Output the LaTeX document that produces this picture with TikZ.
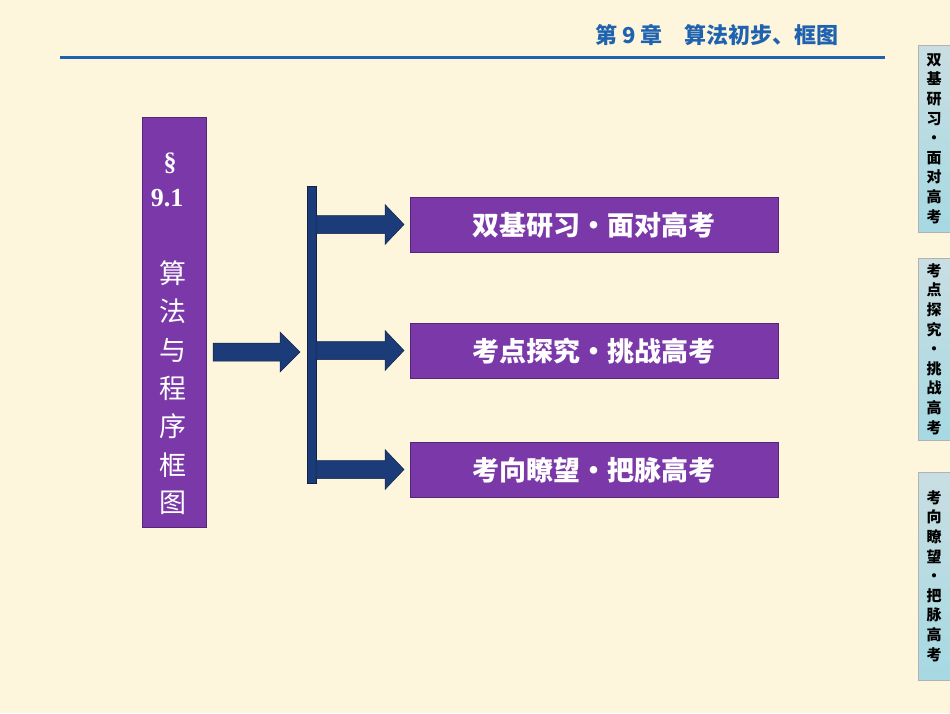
\documentclass[tikz,border=0pt]{standalone}
\usepackage{fontspec}
\newfontfamily\cjk{Noto Sans CJK SC}
\setmainfont{Liberation Serif}
\begin{document}
\begin{tikzpicture}[x=1pt,y=-1pt,
  purp/.style={fill=purple1,draw=purple1!70!black,line width=0.8pt},
  arr/.style={fill=navy,draw=navy!60!black,line width=0.5pt},
  tab/.style={top color=tabtop,bottom color=tabbot,draw=gray!60,line width=0.6pt},
  boxtxt/.style={text=white,font=\cjk\bfseries\fontsize{27}{28}\selectfont},
  tabtxt/.style={font=\cjk\bfseries\fontsize{15}{19.6}\selectfont,align=center,text width=20pt,inner sep=0}]
\definecolor{bg}{HTML}{FDF5DC}
\definecolor{purple1}{HTML}{7B38A8}
\definecolor{navy}{HTML}{1B3C78}
\definecolor{hblue}{HTML}{1F63B0}
\definecolor{tabtop}{HTML}{C9DEE2}
\definecolor{tabbot}{HTML}{A6D9E2}
\fill[bg] (0,0) rectangle (950,713);
\useasboundingbox (0,0) rectangle (950,713);
% header
\draw[hblue,line width=3pt] (60,57) -- (885,57);
\node[anchor=east,text=hblue,font=\cjk\bfseries\fontsize{22}{24}\selectfont] (hdr) at (842,35) {第 9 章\quad 算法初步、框图};
% left box
\node[purp,minimum width=64pt,minimum height=410pt,anchor=north west,inner sep=0] (L) at (142,117) {};
\node[text=white,font=\bfseries\fontsize{26}{26}\selectfont] (sec) at (170,163) {\S};
\node[text=white,font=\bfseries\fontsize{26}{26}\selectfont] (num) at (167,198) {9.1};
\foreach \c [count=\i] in {算,法,与,程,序,框,图}
  \node[text=white,font=\cjk\fontsize{27}{28}\selectfont] (c\i) at (173,235+\i*38.3) {\c};
% main arrow
\path[arr] (213,343) -- (280,343) -- (280,332) -- (300,352) -- (280,372) -- (280,361) -- (213,361) -- cycle;
% vertical bar
\node[arr,minimum width=9pt,minimum height=297pt,inner sep=0,anchor=north west] (bar) at (307,186) {};
% boxes
\foreach \y/\t [count=\i] in {197/双基研习\textbullet{}面对高考,323/考点探究\textbullet{}挑战高考,442/考向瞭望\textbullet{}把脉高考}{
  \node[purp,minimum width=368pt,minimum height=55pt,inner sep=0,anchor=north west] (b\i) at (410,\y) {};
  \node[boxtxt] at (b\i.center) {\t};
  \path[arr] (316,\y+18.5) -- (385,\y+18.5) -- (385,\y+7.5) -- (404,\y+27.5) -- (385,\y+47.5) -- (385,\y+36.5) -- (316,\y+36.5) -- cycle;
}
% tabs
\foreach \ya/\yb/\t [count=\i] in {45/232/{双\\基\\研\\习\\•\\面\\对\\高\\考},258/440/{考\\点\\探\\究\\•\\挑\\战\\高\\考},472/680/{考\\向\\瞭\\望\\•\\把\\脉\\高\\考}}{
  \path[tab] (918,\ya) rectangle (952,\yb);
  \node[tabtxt] (t\i) at (934,{(\ya+\yb)/2}) {\t};
}
\end{tikzpicture}
\end{document}
